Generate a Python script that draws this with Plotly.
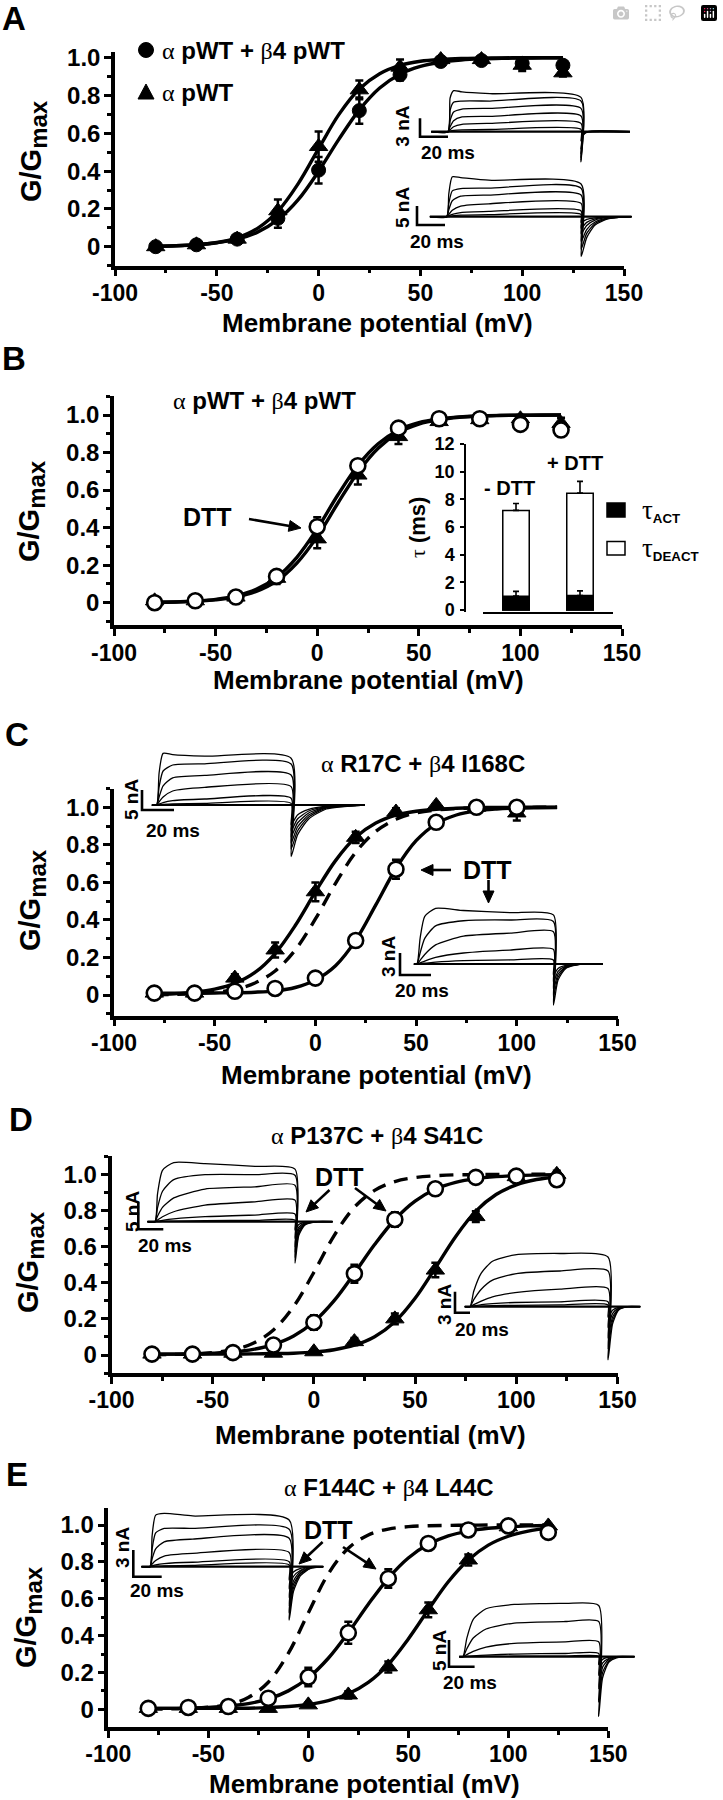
import math
import plotly.graph_objects as go

W, H = 723, 1800
SANS = "Liberation Sans, Arial, Helvetica, sans-serif"
SERIF = "Liberation Serif"

# ---------------- data ----------------
V = [-80, -60, -40, -20, 0, 20, 40, 60, 80, 100, 120]
V_C = [-80, -60, -40, -20, 0, 20, 40, 60, 80, 100]
V_FIT = [-80, -70, -60, -50, -40, -30, -20, -10, 0, 10, 20, 30, 40, 50, 60, 70, 80, 90, 100, 110, 120]
X_TICKS = [-100, -50, 0, 50, 100, 150]
Y_TICKS = [0, 0.2, 0.4, 0.6, 0.8, 1.0]
Y_TICKTEXT = ["0", "0.2", "0.4", "0.6", "0.8", "1.0"]

# Panel A
A_CIRC = [0.0, 0.01, 0.04, 0.15, 0.405, 0.72, 0.91, 0.98, 0.985, 0.97, 0.96]
A_CIRC_ERR = [0.005, 0.01, 0.01, 0.05, 0.07, 0.07, 0.03, 0.01, 0.01, 0.02, 0.02]
A_TRI = [0.0, 0.01, 0.04, 0.19, 0.53, 0.83, 0.95, 0.99, 0.99, 0.96, 0.92]
A_TRI_ERR = [0.005, 0.01, 0.01, 0.06, 0.08, 0.05, 0.04, 0.01, 0.01, 0.03, 0.02]
A_FIT_CIRC = [0.003, 0.005, 0.010, 0.021, 0.040, 0.077, 0.143, 0.249, 0.399, 0.569, 0.724,
              0.840, 0.913, 0.954, 0.976, 0.988, 0.994, 0.997, 0.998, 0.999, 1.0]
A_FIT_TRI = [0.002, 0.005, 0.011, 0.022, 0.047, 0.097, 0.188, 0.334, 0.519, 0.700, 0.834,
             0.915, 0.959, 0.981, 0.991, 0.996, 0.998, 0.999, 1.0, 1.0, 1.0]

# Panel B
B_CIRC = [0.0, 0.01, 0.03, 0.14, 0.405, 0.73, 0.93, 0.98, 0.98, 0.95, 0.92]
B_CIRC_ERR = [0.01, 0.01, 0.01, 0.02, 0.05, 0.03, 0.02, 0.01, 0.01, 0.02, 0.02]
B_TRI = [0.01, 0.01, 0.03, 0.13, 0.34, 0.68, 0.885, 0.965, 0.975, 0.98, 0.955]
B_TRI_ERR = [0.01, 0.01, 0.02, 0.03, 0.05, 0.05, 0.04, 0.02, 0.01, 0.02, 0.03]
B_FIT_CIRC = [0.002, 0.004, 0.009, 0.018, 0.036, 0.071, 0.135, 0.242, 0.394, 0.571, 0.731,
              0.847, 0.919, 0.959, 0.979, 0.990, 0.995, 0.998, 0.999, 1.0, 1.0]
B_FIT_TRI = [0.002, 0.004, 0.007, 0.015, 0.030, 0.060, 0.115, 0.211, 0.352, 0.527, 0.694,
             0.823, 0.905, 0.951, 0.975, 0.988, 0.994, 0.997, 0.999, 0.999, 1.0]
BAR_LABELS = ["- DTT", "+ DTT"]
TAU_DEACT = [7.2, 8.45]
TAU_DEACT_ERR = [0.5, 0.85]
TAU_ACT = [1.0, 1.05]
TAU_ACT_ERR = [0.35, 0.33]
TAU_TICKS = [0, 2, 4, 6, 8, 10, 12]

# Panel C
C_TRI = [0.01, 0.01, 0.09, 0.24, 0.55, 0.84, 0.975, 1.01, 1.0, 0.97]
C_TRI_ERR = [0.01, 0.01, 0.02, 0.04, 0.05, 0.03, 0.02, 0.01, 0.01, 0.04]
C_CIRC = [0.01, 0.01, 0.02, 0.035, 0.09, 0.29, 0.67, 0.92, 1.0, 1.0]
C_CIRC_ERR = [0.01, 0.01, 0.01, 0.02, 0.02, 0.03, 0.05, 0.02, 0.01, 0.02]
C_FIT_TRI = [0.004, 0.007, 0.015, 0.031, 0.062, 0.120, 0.221, 0.370, 0.549, 0.716, 0.840,
             0.916, 0.958, 0.979, 0.990, 0.995, 0.998, 0.999, 1.0, 1.0, 1.0]
C_FIT_DASH = [0.001, 0.003, 0.007, 0.014, 0.030, 0.064, 0.128, 0.240, 0.405, 0.595, 0.760,
              0.872, 0.936, 0.970, 0.986, 0.993, 0.997, 0.998, 0.999, 1.0, 1.0]
C_FIT_CIRC = [0.010, 0.010, 0.010, 0.011, 0.012, 0.015, 0.022, 0.040, 0.080, 0.156, 0.291,
              0.480, 0.674, 0.822, 0.912, 0.959, 0.981, 0.991, 0.996, 0.998, 0.999]

# Panel D
D_CIRC = [0.005, 0.005, 0.013, 0.055, 0.18, 0.45, 0.75, 0.92, 0.983, 0.99, 0.97]
D_CIRC_ERR = [0.01, 0.01, 0.01, 0.02, 0.04, 0.05, 0.04, 0.02, 0.01, 0.01, 0.02]
D_TRI = [0.005, 0.005, 0.01, 0.01, 0.018, 0.074, 0.2, 0.47, 0.766, 0.987, 1.0]
D_TRI_ERR = [0.01, 0.01, 0.01, 0.01, 0.01, 0.02, 0.03, 0.04, 0.03, 0.02, 0.02]
D_FIT_CIRC = [0.005, 0.005, 0.006, 0.010, 0.017, 0.031, 0.058, 0.105, 0.184, 0.301, 0.452,
              0.611, 0.750, 0.852, 0.917, 0.955, 0.976, 0.987, 0.993, 0.996, 0.998]
D_FIT_TRI = [0.005, 0.005, 0.005, 0.005, 0.005, 0.006, 0.008, 0.010, 0.016, 0.029, 0.054,
             0.101, 0.184, 0.314, 0.482, 0.655, 0.796, 0.888, 0.942, 0.971, 0.985]
D_FIT_DASH = [0.001, 0.003, 0.006, 0.013, 0.029, 0.065, 0.138, 0.269, 0.458, 0.661, 0.818,
              0.911, 0.960, 0.982, 0.992, 0.997, 0.998, 0.999, 1.0, 1.0, 1.0]

# Panel E
E_CIRC = [0.005, 0.01, 0.015, 0.06, 0.175, 0.415, 0.71, 0.90, 0.973, 0.995, 0.96]
E_CIRC_ERR = [0.01, 0.01, 0.01, 0.02, 0.05, 0.06, 0.05, 0.02, 0.01, 0.01, 0.02]
E_TRI = [0.005, 0.005, 0.005, 0.005, 0.024, 0.078, 0.23, 0.54, 0.81, 0.99, 0.995]
E_TRI_ERR = [0.01, 0.01, 0.01, 0.01, 0.01, 0.02, 0.03, 0.04, 0.03, 0.02, 0.01]
E_FIT_CIRC = [0.005, 0.005, 0.006, 0.010, 0.018, 0.031, 0.056, 0.100, 0.171, 0.277, 0.416,
              0.570, 0.711, 0.821, 0.895, 0.941, 0.967, 0.982, 0.990, 0.995, 0.997]
E_FIT_TRI = [0.005, 0.005, 0.005, 0.005, 0.005, 0.006, 0.009, 0.015, 0.026, 0.047, 0.084,
             0.146, 0.244, 0.382, 0.540, 0.692, 0.810, 0.891, 0.939, 0.967, 0.983]
E_FIT_DASH = [0.001, 0.002, 0.004, 0.011, 0.026, 0.064, 0.147, 0.303, 0.523, 0.735, 0.874,
              0.946, 0.978, 0.991, 0.996, 0.998, 0.999, 1.0, 1.0, 1.0, 1.0]

# Current-trace insets: time (ms) and currents (nA)
T_A1 = [-12, 0, 1.5, 4, 10, 30, 95, 95, 96.5, 100, 130]
I_A1 = [[0, 0, 5.5, 6.7, 6.5, 6.2, 5.6, -4.9, -0.6, 0, 0],
        [0, 0, 3.5, 4.8, 5.0, 5.0, 5.0, -4.6, -0.5, 0, 0],
        [0, 0, 1.8, 3.2, 3.7, 3.8, 3.8, -4.2, -0.4, 0, 0],
        [0, 0, 0.8, 1.8, 2.4, 2.5, 2.56, -3.6, -0.3, 0, 0],
        [0, 0, 0.3, 0.8, 1.2, 1.35, 1.36, -2.8, -0.2, 0, 0],
        [0, 0, 0.1, 0.2, 0.3, 0.36, 0.38, -1.5, -0.1, 0, 0]]
T_A2 = [-12, 0, 1.5, 4, 10, 30, 96, 96, 100, 106, 115, 132]
I_A2 = [[0, 0, 6, 10.5, 10.3, 9.6, 8.6, -10.5, -5.5, -2.2, -0.6, 0],
        [0, 0, 3.5, 6.8, 7.4, 7.5, 7.5, -8.5, -4.4, -1.8, -0.5, 0],
        [0, 0, 1.8, 4.2, 5.4, 5.7, 5.7, -6.5, -3.4, -1.4, -0.4, 0],
        [0, 0, 0.6, 1.7, 2.8, 3.4, 3.5, -4.5, -2.3, -0.9, -0.2, 0],
        [0, 0, 0.2, 0.6, 1.1, 1.4, 1.5, -3.0, -1.5, -0.6, -0.1, 0],
        [0, 0, 0.05, 0.2, 0.4, 0.55, 0.6, -1.5, -0.7, -0.3, 0, 0]]
T_C1 = [-3, 0, 1.5, 4, 10, 30, 84, 84, 88, 95, 106, 130]
I_C1 = [[0, 0, 8, 12.9, 12.6, 12.2, 11.7, -12.9, -7.5, -3.5, -1.0, 0],
        [0, 0, 4.5, 8.5, 10, 10.3, 10.25, -11, -6.5, -3, -0.8, 0],
        [0, 0, 2, 4.8, 6.8, 7.4, 7.5, -9.5, -5.5, -2.5, -0.6, 0],
        [0, 0, 0.8, 2.0, 3.5, 4.4, 4.6, -8, -4.5, -2, -0.5, 0],
        [0, 0, 0.2, 0.6, 1.1, 1.5, 1.7, -6.5, -3.5, -1.5, -0.4, 0],
        [0, 0, 0.05, 0.15, 0.3, 0.4, 0.4, -5, -2.5, -1.1, -0.3, 0]]
T_C2 = [-2, 0, 2, 5, 12, 30, 60, 88, 88, 91, 96, 106, 120]
I_C2 = [[0, 0, 3.5, 6.5, 7.6, 7.3, 7.0, 6.7, -5.6, -2.2, -0.6, 0, 0],
        [0, 0, 1.5, 3.5, 5.2, 5.9, 6.0, 5.8, -4.5, -1.8, -0.5, 0, 0],
        [0, 0, 0.5, 1.3, 2.6, 3.8, 4.2, 4.4, -3.5, -1.4, -0.4, 0, 0],
        [0, 0, 0.15, 0.4, 0.9, 1.5, 1.9, 2.0, -2.5, -1.0, -0.3, 0, 0],
        [0, 0, 0.05, 0.1, 0.25, 0.45, 0.55, 0.55, -1.5, -0.6, -0.2, 0, 0]]
T_D1 = [-6, 0, 2, 6, 15, 40, 80, 112, 112, 115, 120, 130, 142]
I_D1 = [[0, 0, 5, 9.3, 10.7, 10.5, 10.0, 9.5, -7.5, -2.5, -0.6, 0, 0],
        [0, 0, 2.5, 5.5, 7.6, 8.5, 8.5, 8.4, -6.5, -2.1, -0.5, 0, 0],
        [0, 0, 1.0, 2.6, 4.3, 5.9, 6.3, 6.6, -5.5, -1.8, -0.4, 0, 0],
        [0, 0, 0.3, 0.9, 1.8, 3.0, 3.6, 3.9, -4.5, -1.4, -0.3, 0, 0],
        [0, 0, 0.1, 0.25, 0.5, 0.9, 1.2, 1.4, -3, -1, -0.2, 0, 0],
        [0, 0, 0.02, 0.05, 0.1, 0.2, 0.25, 0.3, -1.5, -0.5, -0.1, 0, 0]]
T_D2 = [-7, 0, 5, 15, 30, 60, 120, 184, 184, 190, 198, 210, 227]
I_D2 = [[0, 0, 2.2, 4.8, 6.5, 7.4, 7.6, 7.1, -7.6, -2.5, -0.5, 0, 0],
        [0, 0, 1.0, 2.5, 3.8, 4.7, 5.1, 5.1, -6, -2, -0.4, 0, 0],
        [0, 0, 0.3, 0.8, 1.4, 2.0, 2.5, 2.6, -4.5, -1.5, -0.3, 0, 0],
        [0, 0, 0.1, 0.3, 0.45, 0.6, 0.7, 0.7, -3, -1, -0.2, 0, 0],
        [0, 0, 0.03, 0.08, 0.15, 0.2, 0.25, 0.25, -1.5, -0.5, -0.1, 0, 0]]
T_E1 = [-6, 0, 1.5, 4, 10, 30, 98, 98, 101, 106, 113, 122]
I_E1 = [[0, 0, 3.5, 5.8, 6.0, 5.7, 5.25, -6.0, -2.8, -1.0, -0.2, 0],
        [0, 0, 2, 3.8, 4.3, 4.3, 4.2, -5.2, -2.4, -0.8, -0.2, 0],
        [0, 0, 0.9, 2.0, 2.8, 3.1, 3.2, -4.4, -2.0, -0.7, -0.1, 0],
        [0, 0, 0.3, 0.7, 1.2, 1.5, 1.6, -3.5, -1.6, -0.5, -0.1, 0],
        [0, 0, 0.08, 0.2, 0.35, 0.5, 0.56, -2.5, -1.1, -0.4, 0, 0],
        [0, 0, 0.02, 0.05, 0.1, 0.15, 0.2, -1.5, -0.6, -0.2, 0, 0]]
T_E2 = [-3, 0, 3, 8, 18, 40, 80, 106, 106, 109, 114, 120, 134]
I_E2 = [[0, 0, 3.5, 7, 9, 9.8, 10, 9.6, -11.2, -4, -1, -0.2, 0],
        [0, 0, 1.5, 3.5, 5.2, 6.3, 6.6, 6.6, -8.5, -3, -0.8, -0.1, 0],
        [0, 0, 0.4, 1.0, 1.8, 2.5, 2.8, 2.8, -6, -2, -0.5, 0, 0],
        [0, 0, 0.05, 0.15, 0.3, 0.5, 0.6, 0.6, -3.5, -1.2, -0.3, 0, 0],
        [0, 0, 0, 0.02, 0.05, 0.08, 0.1, 0.1, -1.5, -0.5, -0.1, 0, 0]]
SCALE_MS = {"A1": 20, "A2": 20, "C1": 20, "C2": 20, "D1": 20, "D2": 20, "E1": 20, "E2": 20}
SCALE_NA = {"A1": 3, "A2": 5, "C1": 5, "C2": 3, "D1": 5, "D2": 3, "E1": 3, "E2": 5}


def g(ch, size=None):
    extra = f";font-size:{size}px" if size else ""
    return f"<span style=\"font-family:'{SERIF}';font-weight:normal{extra}\">{ch}</span>"


LEGEND_A = [g("α") + " pWT + " + g("β") + "4 pWT", g("α") + " pWT"]
TITLES = {"B": g("α") + " pWT + " + g("β") + "4 pWT",
          "C": g("α") + " R17C + " + g("β") + "4 I168C",
          "D": g("α") + " P137C + " + g("β") + "4 S41C",
          "E": g("α") + " F144C + " + g("β") + "4 L44C"}
XTITLE = "Membrane potential (mV)"
YTITLE = "G/G<sub><span style=\"font-size:24px\">max</span></sub>"

# ---------------- layout geometry (pixels) ----------------
PANELS = {
    "A": dict(n=1, x=(115, 624), y0=246.7, y1=57.7, yr=(-0.1, 1.03)),
    "B": dict(n=2, x=(114, 622), y0=602.7, y1=415.0, yr=(-0.12, 1.1)),
    "C": dict(n=3, x=(114, 617.5), y0=995.0, y1=807.3, yr=(-0.11, 1.1)),
    "D": dict(n=4, x=(111.5, 617.5), y0=1355.0, y1=1174.3, yr=(-0.1, 1.1)),
    "E": dict(n=5, x=(108.3, 608.3), y0=1709.3, y1=1525.0, yr=(-0.095, 1.09)),
}
INSETS = {
    "A1": dict(n=7, origin=(448, 131.7), sx=1.4, sy=6.13, box=(410, 85, 640, 168),
               bar=(420, 136.7), lab_na=(403, 126.7), lab_ms=(448, 152.7)),
    "A2": dict(n=8, origin=(446.7, 216.7), sx=1.4, sy=3.8, box=(410, 170, 640, 262),
               bar=(417, 225), lab_na=(403, 208), lab_ms=(437, 241.7)),
    "C1": dict(n=9, origin=(156.7, 805), sx=1.6, sy=4.0, box=(135, 745, 370, 862),
               bar=(142, 810), lab_na=(131, 800), lab_ms=(173, 830)),
    "C2": dict(n=10, origin=(417, 964), sx=1.55, sy=7.33, box=(395, 900, 610, 1010),
               bar=(400, 975), lab_na=(389, 957), lab_ms=(422, 990)),
    "D1": dict(n=11, origin=(155, 1221.7), sx=1.25, sy=5.53, box=(130, 1155, 340, 1270),
               bar=(138.3, 1229.3), lab_na=(132, 1212), lab_ms=(165, 1245)),
    "D2": dict(n=12, origin=(470, 1306.7), sx=0.75, sy=7.0, box=(450, 1245, 648, 1366),
               bar=(455, 1312.7), lab_na=(444, 1305), lab_ms=(482, 1329)),
    "E1": dict(n=13, origin=(150, 1566.7), sx=1.42, sy=8.9, box=(128, 1505, 330, 1628),
               bar=(133.3, 1576.7), lab_na=(122, 1548), lab_ms=(157, 1590)),
    "E2": dict(n=14, origin=(463, 1656.7), sx=1.28, sy=5.33, box=(444, 1595, 640, 1722),
               bar=(449, 1666.7), lab_na=(439, 1650), lab_ms=(470, 1682)),
}
INSET_DATA = {"A1": (T_A1, I_A1), "A2": (T_A2, I_A2), "C1": (T_C1, I_C1), "C2": (T_C2, I_C2),
              "D1": (T_D1, I_D1), "D2": (T_D2, I_D2), "E1": (T_E1, I_E1), "E2": (T_E2, I_E2)}


def fx(px):
    return px / W


def fy(py):
    return 1 - py / H


def ax_name(n, kind):
    return kind if n == 1 else f"{kind}{n}"


fig = go.Figure()
layout_axes = {}


def font(size, **kw):
    d = dict(family=SANS, color="black", weight="bold", size=size)
    d.update(kw)
    return d


MK = {
    "dot": dict(symbol="circle", size=14, color="black", line=dict(color="black", width=1)),
    "tri": dict(symbol="triangle-up", size=16, color="black", line=dict(color="black", width=1)),
    "open": dict(symbol="circle", size=15, color="white", line=dict(color="black", width=2.6)),
}

DASH = "14px,9px"
PANEL_CONTENT = {
    "A": dict(curves=[(A_FIT_TRI, None), (A_FIT_CIRC, None)],
              series=[(V, A_TRI, A_TRI_ERR, "tri"), (V, A_CIRC, A_CIRC_ERR, "dot")]),
    "B": dict(curves=[(B_FIT_TRI, None), (B_FIT_CIRC, None)],
              series=[(V, B_TRI, B_TRI_ERR, "tri"), (V, B_CIRC, B_CIRC_ERR, "open")]),
    "C": dict(curves=[(C_FIT_TRI, None), (C_FIT_DASH, DASH), (C_FIT_CIRC, None)],
              series=[(V_C, C_TRI, C_TRI_ERR, "tri"), (V_C, C_CIRC, C_CIRC_ERR, "open")]),
    "D": dict(curves=[(D_FIT_DASH, DASH), (D_FIT_CIRC, None), (D_FIT_TRI, None)],
              series=[(V, D_TRI, D_TRI_ERR, "tri"), (V, D_CIRC, D_CIRC_ERR, "open")]),
    "E": dict(curves=[(E_FIT_DASH, DASH), (E_FIT_CIRC, None), (E_FIT_TRI, None)],
              series=[(V, E_TRI, E_TRI_ERR, "tri"), (V, E_CIRC, E_CIRC_ERR, "open")]),
}

for key, p in PANELS.items():
    n = p["n"]
    xa, ya = ax_name(n, "x"), ax_name(n, "y")
    unit = p["y0"] - p["y1"]
    top = p["y0"] - p["yr"][1] * unit
    bot = p["y0"] - p["yr"][0] * unit
    layout_axes[ax_name(n, "xaxis")] = dict(
        domain=[fx(p["x"][0]), fx(p["x"][1])], range=[-100, 150], anchor=ya,
        showline=True, linewidth=3.5, linecolor="black", ticks="outside", ticklen=7,
        tickwidth=3, tickcolor="black", tickvals=X_TICKS, ticktext=[str(v) for v in X_TICKS],
        tickfont=font(23), ticklabelstandoff=-3,
        minor=dict(ticks="outside", ticklen=4, tickwidth=2.5, tickcolor="black", dtick=25, tick0=-100),
        showgrid=False, zeroline=False, automargin=False, fixedrange=True)
    layout_axes[ax_name(n, "yaxis")] = dict(
        domain=[fy(bot), fy(top)], range=list(p["yr"]), anchor=xa,
        showline=True, linewidth=3.5, linecolor="black", ticks="outside", ticklen=7,
        tickwidth=3, tickcolor="black", tickvals=Y_TICKS, ticktext=Y_TICKTEXT,
        tickfont=font(24), ticklabelstandoff=-1,
        minor=dict(ticks="outside", ticklen=4, tickwidth=2.5, tickcolor="black", dtick=0.1, tick0=0),
        showgrid=False, zeroline=False, automargin=False, fixedrange=True)
    content = PANEL_CONTENT[key]
    for yv, dash in content["curves"]:
        fig.add_trace(go.Scatter(x=V_FIT, y=yv, mode="lines", line_shape="spline",
                                 line=dict(color="black", width=3.4, dash=dash or "solid"),
                                 xaxis=xa, yaxis=ya, showlegend=False, cliponaxis=False,
                                 hoverinfo="skip"))
    for xv, yv, err, kind in content["series"]:
        fig.add_trace(go.Scatter(x=xv, y=yv, mode="markers", marker=MK[kind],
                                 error_y=dict(type="data", array=err, visible=True, color="black",
                                              thickness=2.5, width=4),
                                 xaxis=xa, yaxis=ya, showlegend=False, cliponaxis=False))

# ---- current-trace insets ----
for key, ins in INSETS.items():
    n = ins["n"]
    xa, ya = ax_name(n, "x"), ax_name(n, "y")
    x0, y0 = ins["origin"]
    sx, sy = ins["sx"], ins["sy"]
    l, t, r, b = ins["box"]
    layout_axes[ax_name(n, "xaxis")] = dict(domain=[fx(l), fx(r)], range=[(l - x0) / sx, (r - x0) / sx],
                                            anchor=ya, visible=False, fixedrange=True)
    layout_axes[ax_name(n, "yaxis")] = dict(domain=[fy(b), fy(t)], range=[(y0 - b) / sy, (y0 - t) / sy],
                                            anchor=xa, visible=False, fixedrange=True)
    tt, currents = INSET_DATA[key]
    fig.add_trace(go.Scatter(x=[tt[0], tt[-1]], y=[0, 0], mode="lines",
                             line=dict(color="black", width=2.2), xaxis=xa, yaxis=ya,
                             showlegend=False, hoverinfo="skip"))
    for cur in currents:
        fig.add_trace(go.Scatter(x=tt, y=cur, mode="lines", line_shape="spline",
                                 line=dict(color="black", width=1.3, smoothing=0.6),
                                 xaxis=xa, yaxis=ya, showlegend=False, hoverinfo="skip"))
    bx = (ins["bar"][0] - x0) / sx
    by = (y0 - ins["bar"][1]) / sy
    fig.add_trace(go.Scatter(x=[bx, bx, bx + SCALE_MS[key]], y=[by + SCALE_NA[key], by, by],
                             mode="lines", line=dict(color="black", width=2.6),
                             xaxis=xa, yaxis=ya, showlegend=False, hoverinfo="skip"))

# ---- tau bar inset (panel B) ----
BAR_BOX = dict(x=(483, 613), yaxis_x=465, y_zero=610, px_per=13.83, yr=(-0.15, 12))
c0 = BAR_BOX["y_zero"]
layout_axes["xaxis6"] = dict(domain=[fx(BAR_BOX["x"][0]), fx(BAR_BOX["x"][1])], range=[-0.516, 1.516],
                             anchor="y6", showline=True, linewidth=1.5, linecolor="black",
                             showticklabels=False, ticks="", showgrid=False, zeroline=False,
                             type="category", automargin=False, fixedrange=True)
layout_axes["yaxis6"] = dict(domain=[fy(c0 - BAR_BOX["yr"][0] * BAR_BOX["px_per"]),
                                     fy(c0 - BAR_BOX["yr"][1] * BAR_BOX["px_per"])],
                             range=list(BAR_BOX["yr"]), anchor="free", position=fx(BAR_BOX["yaxis_x"]),
                             showline=True, linewidth=1.5, linecolor="black", ticks="outside",
                             ticklen=4, tickwidth=1.5, tickcolor="black", tickvals=TAU_TICKS,
                             tickfont=font(18), ticklabelstandoff=2, showgrid=False, zeroline=False,
                             automargin=False, fixedrange=True)
fig.add_trace(go.Bar(x=BAR_LABELS, y=TAU_DEACT, width=0.414,
                     marker=dict(color="white", line=dict(color="black", width=1.5)),
                     error_y=dict(type="data", array=TAU_DEACT_ERR, arrayminus=[0, 0], symmetric=False,
                                  color="black", thickness=1.6, width=3),
                     xaxis="x6", yaxis="y6", showlegend=False))
fig.add_trace(go.Bar(x=BAR_LABELS, y=TAU_ACT, width=0.414,
                     marker=dict(color="black", line=dict(color="black", width=1.5)),
                     error_y=dict(type="data", array=TAU_ACT_ERR, arrayminus=[0, 0], symmetric=False,
                                  color="black", thickness=1.6, width=3),
                     xaxis="x6", yaxis="y6", showlegend=False))

# ---------------- annotations & shapes ----------------
ann = []
shapes = []


def text(s, x, y, size, angle=0, xanchor="center"):
    ann.append(dict(text=s, x=fx(x), y=fy(y), xref="paper", yref="paper", showarrow=False,
                    font=font(size), textangle=angle, xanchor=xanchor, yanchor="middle"))


def arrow(tail, tip, head=12, half=5.5, width=2.6):
    dx, dy = tip[0] - tail[0], tip[1] - tail[1]
    d = math.hypot(dx, dy)
    ux, uy = dx / d, dy / d
    bx, by = tip[0] - ux * head, tip[1] - uy * head
    shapes.append(dict(type="line", xref="paper", yref="paper", x0=fx(tail[0]), y0=fy(tail[1]),
                       x1=fx(bx + ux * 2), y1=fy(by + uy * 2), line=dict(color="black", width=width)))
    p1 = (bx - uy * half, by + ux * half)
    p2 = (bx + uy * half, by - ux * half)
    shapes.append(dict(type="path", xref="paper", yref="paper",
                       path=f"M {fx(tip[0])},{fy(tip[1])} L {fx(p1[0])},{fy(p1[1])} L {fx(p2[0])},{fy(p2[1])} Z",
                       fillcolor="black", line=dict(color="black", width=1)))


for letter, (x, y) in {"A": (14, 18), "B": (14, 359), "C": (17, 734), "D": (21, 1119), "E": (17, 1474)}.items():
    text(letter, x, y, 33)

for key, (x, y) in {"A": (377, 323), "B": (368, 680), "C": (376, 1075), "D": (371, 1435), "E": (364, 1784)}.items():
    text(XTITLE, x, y, 26)
for key, (x, y) in {"A": (33, 151), "B": (32, 511), "C": (32, 900), "D": (30, 1262), "E": (28, 1617)}.items():
    text(YTITLE, x, y, 29, angle=-90)

for key, (x, y) in {"B": (264, 400), "C": (423, 763), "D": (377, 1135), "E": (389, 1487)}.items():
    text(TITLES[key], x, y, 24)

text(LEGEND_A[0], 160, 50, 24, xanchor="left")
text(LEGEND_A[1], 160, 92, 24, xanchor="left")

# DTT labels and arrows
text("DTT", 207, 517, 25)
arrow((249, 519), (301, 528))
text("DTT", 487, 870, 25)
arrow((451, 870), (421, 870))
arrow((488.5, 880), (488.5, 903))
text("DTT", 339, 1177, 25)
arrow((329.5, 1190), (306, 1212))
arrow((355, 1188), (386, 1211))
text("DTT", 328, 1530, 25)
arrow((322.6, 1542), (299, 1564))
arrow((343, 1547), (376, 1569))

# inset scale labels
for key, ins in INSETS.items():
    text(f"{SCALE_NA[key]} nA", ins["lab_na"][0], ins["lab_na"][1], 19, angle=-90)
    text(f"{SCALE_MS[key]} ms", ins["lab_ms"][0], ins["lab_ms"][1], 19)

# bar inset labels
text(BAR_LABELS[0], 509, 488, 20)
text(BAR_LABELS[1], 575, 463, 20)
text(g("τ") + " (ms)", 417, 527, 22, angle=-90)
text(g("τ", 27) + "<sub>ACT</sub>", 640, 511, 19, xanchor="left")
text(g("τ", 27) + "<sub>DEACT</sub>", 640, 549, 19, xanchor="left")

shapes += [
    dict(type="rect", xref="paper", yref="paper", x0=fx(607), x1=fx(625), y0=fy(517), y1=fy(503),
         fillcolor="black", line=dict(color="black", width=1.5)),
    dict(type="rect", xref="paper", yref="paper", x0=fx(607), x1=fx(625), y0=fy(555), y1=fy(541.5),
         fillcolor="white", line=dict(color="black", width=1.5)),
    dict(type="circle", xref="paper", yref="paper", x0=fx(138.5), x1=fx(153.5), y0=fy(57.5), y1=fy(42.5),
         fillcolor="black", line=dict(color="black", width=1)),
    dict(type="path", xref="paper", yref="paper",
         path=f"M {fx(138)},{fy(99)} L {fx(154)},{fy(99)} L {fx(146)},{fy(84)} Z",
         fillcolor="black", line=dict(color="black", width=1)),
]

fig.update_layout(
    width=W, height=H, margin=dict(l=0, r=0, t=0, b=0), template="none",
    paper_bgcolor="white", plot_bgcolor="rgba(0,0,0,0)", barmode="overlay",
    font=dict(family=SANS, color="black", size=20, weight="bold"),
    annotations=ann, shapes=shapes, showlegend=False, **layout_axes)

fig.write_html("out.html", post_script="document.body.style.margin='0';")
